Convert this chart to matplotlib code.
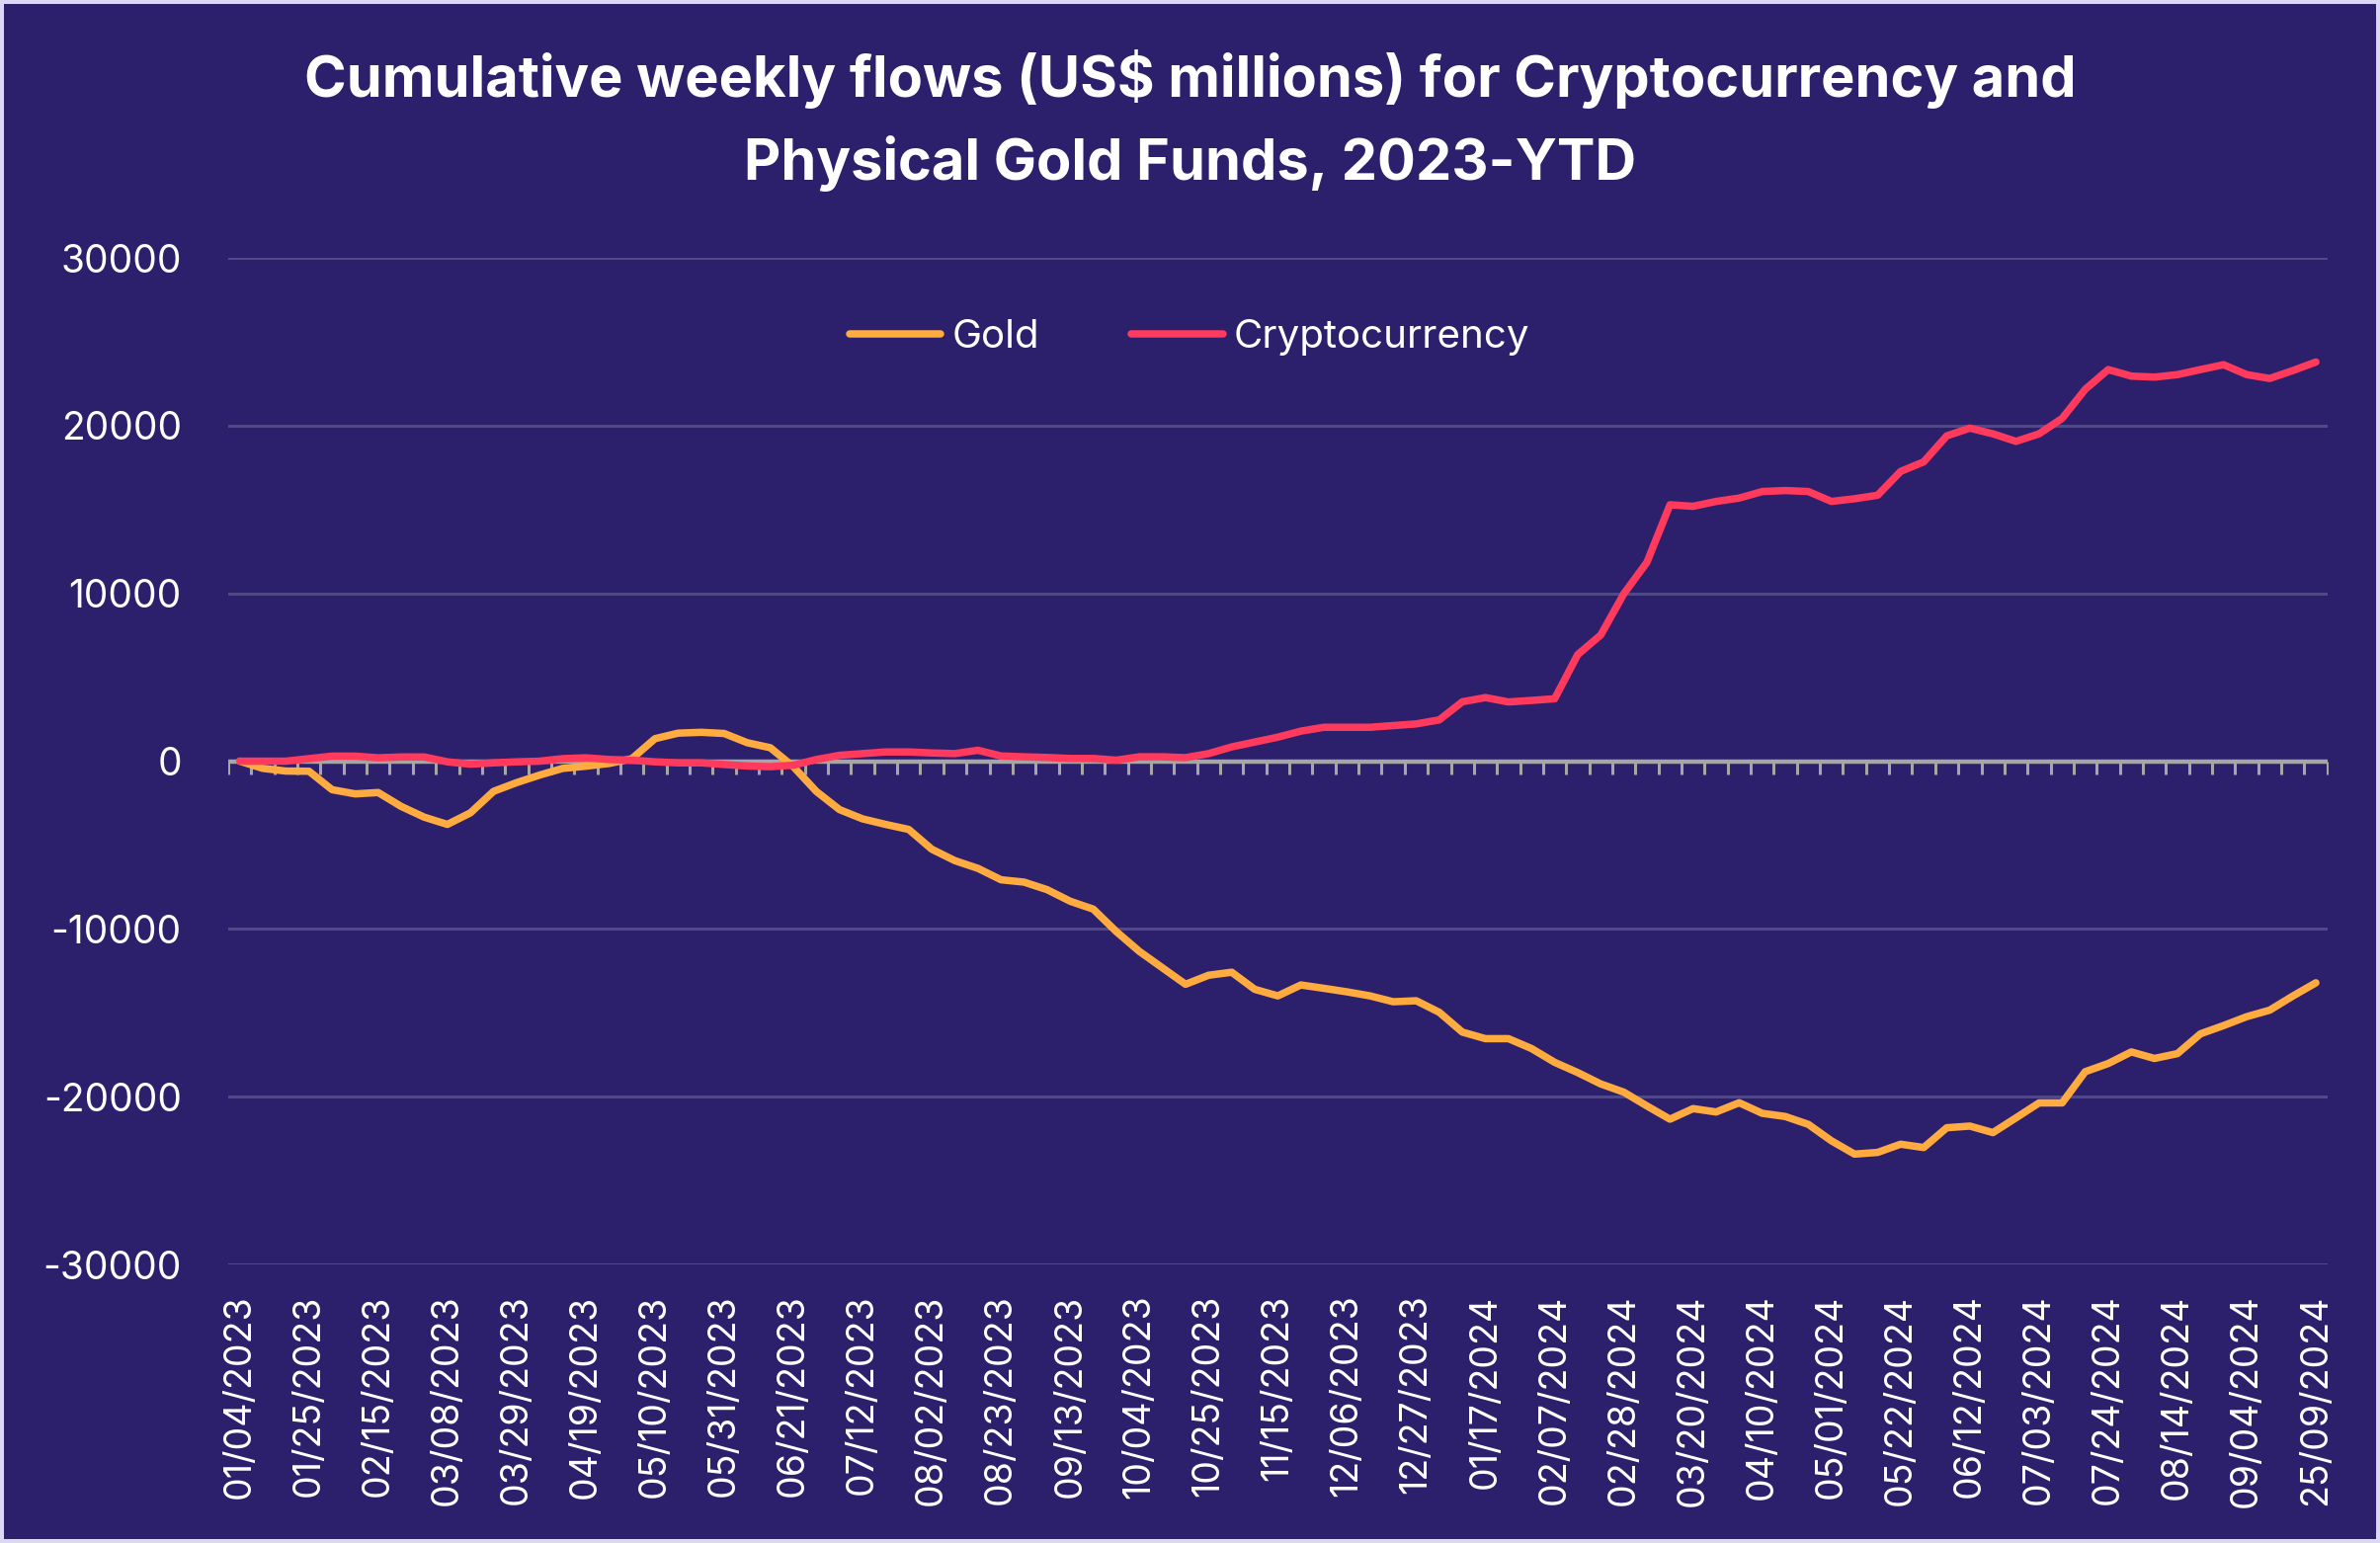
import numpy as np
import matplotlib.pyplot as plt

# cumulative weekly flows, US$ millions, week ending 01/04/2023 .. 09/25/2024
gold = [0, -430, -590, -600, -1700, -1950, -1870, -2700, -3340, -3770,
        -3080, -1800, -1280, -830, -430, -300, -140, 150, 1340, 1670,
        1720, 1650, 1100, 800, -330, -1810, -2890, -3440, -3770, -4070,
        -5250, -5930, -6390, -7070, -7210, -7660, -8350, -8820, -10160, -11340,
        -12320, -13300, -12760, -12580, -13600, -13990, -13340, -13540, -13750, -13990,
        -14340, -14280, -14970, -16150, -16540, -16540, -17130, -17950, -18560, -19240,
        -19730, -20550, -21340, -20710, -20910, -20360, -20990, -21180, -21650, -22630,
        -23420, -23320, -22830, -23030, -21850, -21750, -22140, -21260, -20370, -20370,
        -18510, -18020, -17330, -17720, -17430, -16250, -15760, -15230, -14840, -14000,
        -13210]

crypto = [0, 0, 0, 150, 300, 300, 200, 250, 250, -40,
          -180, -100, -40, 0, 150, 200, 100, 60, -40, -100,
          -100, -200, -290, -330, -240, 100, 350, 450, 550, 550,
          490, 450, 650, 310, 260, 220, 160, 160, 60, 260,
          260, 210, 450, 850, 1140, 1430, 1790, 2020, 2020, 2020,
          2120, 2220, 2460, 3540, 3790, 3530, 3620, 3720, 6350, 7520,
          9980, 11850, 15280, 15190, 15480, 15680, 16070, 16130, 16070, 15480,
          15640, 15850, 17270, 17840, 19390, 19850, 19510, 19060, 19510, 20430,
          22160, 23340, 22950, 22890, 23040, 23340, 23630, 23040, 22810, 23280,
          23790]

# every third week is labelled
date_labels = ['01/04/2023', '01/25/2023', '02/15/2023', '03/08/2023', '03/29/2023',
               '04/19/2023', '05/10/2023', '05/31/2023', '06/21/2023', '07/12/2023',
               '08/02/2023', '08/23/2023', '09/13/2023', '10/04/2023', '10/25/2023',
               '11/15/2023', '12/06/2023', '12/27/2023', '01/17/2024', '02/07/2024',
               '02/28/2024', '03/20/2024', '04/10/2024', '05/01/2024', '05/22/2024',
               '06/12/2024', '07/03/2024', '07/24/2024', '08/14/2024', '09/04/2024',
               '25/09/2024']

y_ticks = [-30000, -20000, -10000, 0, 10000, 20000, 30000]

bg = '#2c1f6b'
plt.rcParams['font.family'] = ['Inter', 'DejaVu Sans']

fig = plt.figure(figsize=(12.045, 7.81), dpi=200, facecolor=bg)
fig.patch.set_edgecolor('#dcd8f4')
fig.patch.set_linewidth(2.2)

ax = fig.add_axes([0.0959, 0.1805, 0.882, 0.6524])
ax.set_facecolor(bg)

x = np.arange(len(gold))
ax.set_xlim(-0.5, len(gold) - 0.5)
ax.set_ylim(-30000, 30000)

# gridlines + the grey zero axis with small ticks between weeks
ax.set_yticks(y_ticks)
ax.set_yticklabels([str(v) for v in y_ticks])
ax.grid(axis='y', color='#4f4987', linewidth=1.1, zorder=1)
ax.set_axisbelow(True)
ax.axhline(0, color='#a6a6a6', linewidth=1.6, zorder=2)
bounds = np.arange(-0.5, len(gold), 1.0)
ax.plot(bounds, np.zeros_like(bounds), linestyle='none', marker=3,
        markersize=4.8, markeredgewidth=1.1, color='#a6a6a6', zorder=2)

ax.plot(x, gold, color='#ffab40', linewidth=2.7, label='Gold', zorder=3,
        solid_capstyle='round', solid_joinstyle='round')
ax.plot(x, crypto, color='#ff3a5c', linewidth=2.7, label='Cryptocurrency', zorder=3,
        solid_capstyle='round', solid_joinstyle='round')

ax.set_xticks(x[::3])
ax.set_xticklabels(date_labels, rotation=90)
ax.tick_params(axis='both', length=0, colors='white', labelsize=13.5)
ax.tick_params(axis='y', pad=17, labelsize=14)
ax.tick_params(axis='x', pad=11)
for s in ax.spines.values():
    s.set_visible(False)

leg = ax.legend(loc='center', bbox_to_anchor=(0.458, 0.921), ncol=2, frameon=False,
                fontsize=14.5, handlelength=2.3, handletextpad=0.28, columnspacing=2.3)
for t in leg.get_texts():
    t.set_color('white')

fig.text(0.5, 1 - 122 / 1562,
         'Cumulative weekly flows (US$ millions) for Cryptocurrency and\nPhysical Gold Funds, 2023-YTD',
         ha='center', va='center', color='white', fontsize=20.8, fontweight='bold',
         linespacing=1.6)

fig.savefig('out.png', dpi=200, facecolor=fig.get_facecolor(), edgecolor=fig.get_edgecolor())
